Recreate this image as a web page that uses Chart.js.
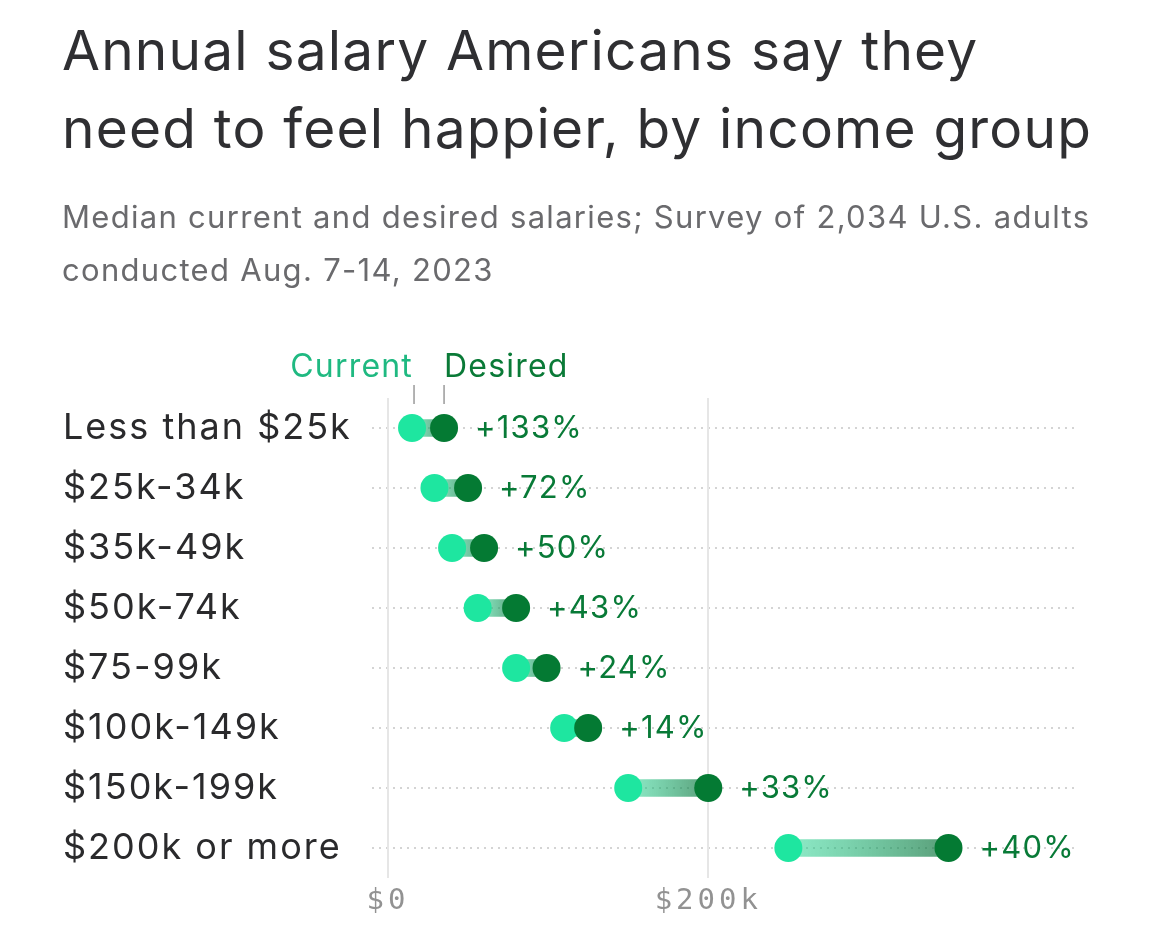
<!DOCTYPE html>
<html>
<head>
<meta charset="utf-8">
<script src="https://cdn.jsdelivr.net/npm/chart.js@4.4.0/dist/chart.umd.min.js"></script>
<style>
  html, body { margin: 0; padding: 0; background: #fff; }
  body { width: 1170px; height: 935px; position: relative; overflow: hidden; }
  #title { position: absolute; left: 62px; top: 11px; font-family: Inter, sans-serif; font-weight: 400; font-size: 55px; line-height: 78px; color: #2f2f32; letter-spacing: 1.2px; white-space: nowrap; z-index: 2; }
  #subtitle { position: absolute; left: 62px; top: 190px; font-family: Inter, sans-serif; font-weight: 400; font-size: 31px; line-height: 53px; color: #6a6a6d; letter-spacing: 1.3px; white-space: nowrap; z-index: 2; }
  canvas { position: absolute; left: 0; top: 0; }
</style>
</head>
<body>
<div id="title">Annual salary Americans say they<br>need to feel happier, by income group</div>
<div id="subtitle">Median current and desired salaries; Survey of 2,034 U.S. adults<br>conducted Aug. 7-14, 2023</div>
<canvas id="c" width="1170" height="935"></canvas>
<script>
const categories = ['Less than $25k', '$25k-34k', '$35k-49k', '$50k-74k', '$75-99k', '$100k-149k', '$150k-199k', '$200k or more'];
const currentSalary = [15000, 29000, 40000, 56000, 80000, 110000, 150000, 250000];
const desiredSalary = [35000, 50000, 60000, 80000, 99000, 125000, 200000, 350000];
const changeLabels = ['+133%', '+72%', '+50%', '+43%', '+24%', '+14%', '+33%', '+40%'];
const tickValues = [0, 200000];
const tickLabels = ['$0', '$200k'];

const LIGHT = '#1ee6a0';
const DARK = '#047a33';

function segGradient(ctx) {
  const chart = ctx.chart;
  const xs = chart.scales.x;
  if (!xs || !chart.chartArea || ctx.dataIndex === undefined) return 'rgba(30,220,150,0.5)';
  const i = ctx.dataIndex;
  const x0 = xs.getPixelForValue(currentSalary[i]);
  const x1 = xs.getPixelForValue(desiredSalary[i]);
  const g = chart.ctx.createLinearGradient(x0, 0, x1, 0);
  g.addColorStop(0, 'rgba(30,215,145,0.50)');
  g.addColorStop(1, 'rgba(10,110,55,0.68)');
  return g;
}

function spaced(scale, spacing) {
  if (scale._spacedWrap) return;
  const orig = scale.drawLabels.bind(scale);
  scale.drawLabels = function (area) {
    const c = this.ctx;
    const prev = c.letterSpacing;
    c.letterSpacing = spacing;
    orig(area);
    c.letterSpacing = prev || '0px';
  };
  scale._spacedWrap = true;
}

const annotate = {
  id: 'annotate',
  afterDatasetsDraw(chart) {
    const ctx = chart.ctx;
    const dMeta = chart.getDatasetMeta(0);
    const cMeta = chart.getDatasetMeta(1);
    ctx.save();
    ctx.letterSpacing = '1.2px';
    ctx.font = '400 31px Inter, sans-serif';
    ctx.fillStyle = '#087a37';
    ctx.textBaseline = 'middle';
    ctx.textAlign = 'left';
    dMeta.data.forEach((el, i) => {
      ctx.fillText(changeLabels[i], el.x + 31, el.y + 1);
    });
    const c0 = cMeta.data[0], d0 = dMeta.data[0];
    ctx.textBaseline = 'alphabetic';
    ctx.font = '400 32px Inter, sans-serif';
    ctx.textAlign = 'right';
    ctx.fillStyle = '#1fb981';
    ctx.fillText('Current', c0.x + 1, c0.y - 51);
    ctx.textAlign = 'left';
    ctx.fillStyle = '#0a7a37';
    ctx.fillText('Desired', d0.x, d0.y - 51);
    ctx.strokeStyle = '#9a9a9a';
    ctx.lineWidth = 1.5;
    [c0.x + 2, d0.x].forEach(x => {
      ctx.beginPath();
      ctx.moveTo(x, c0.y - 43);
      ctx.lineTo(x, c0.y - 24);
      ctx.stroke();
    });
    ctx.restore();
  }
};

new Chart(document.getElementById('c'), {
  type: 'bar',
  data: {
    labels: categories,
    datasets: [
      {
        type: 'line', label: 'Desired', data: desiredSalary, order: 0,
        showLine: false, pointRadius: 14, pointHoverRadius: 14, pointBorderWidth: 0,
        pointBackgroundColor: DARK, borderColor: DARK, backgroundColor: DARK
      },
      {
        type: 'line', label: 'Current', data: currentSalary, order: 1,
        showLine: false, pointRadius: 14, pointHoverRadius: 14, pointBorderWidth: 0,
        pointBackgroundColor: LIGHT, borderColor: LIGHT, backgroundColor: LIGHT
      },
      {
        type: 'bar', label: 'Gap', order: 2,
        data: currentSalary.map((v, i) => [v, desiredSalary[i]]),
        backgroundColor: segGradient, borderWidth: 0, barThickness: 17, borderSkipped: false
      }
    ]
  },
  options: {
    indexAxis: 'y',
    responsive: false,
    animation: false,
    events: [],
    layout: { padding: { top: 398, left: 63, right: 95, bottom: 0 } },
    plugins: { legend: { display: false }, tooltip: { enabled: false }, title: { display: false } },
    scales: {
      y: {
        type: 'category',
        offset: true,
        grid: { offset: false, color: '#d4d4d4', lineWidth: 2, drawTicks: false },
        border: { display: false, dash: [2, 5] },
        ticks: { crossAlign: 'far', color: '#2a2a2c', padding: 0, font: { family: 'Inter, sans-serif', size: 36 } },
        afterFit(s) { s.width = 309; spaced(s, '2px'); }
      },
      x: {
        type: 'linear',
        min: -10000,
        max: 429000,
        afterBuildTicks(s) { s.ticks = tickValues.map(v => ({ value: v })); },
        grid: { color: '#e6e6e6', lineWidth: 2, drawTicks: false },
        border: { display: false },
        ticks: {
          padding: 6, color: '#929292',
          font: { family: '"DejaVu Sans Mono", monospace', size: 29 },
          callback(v) { const k = tickValues.indexOf(v); return k >= 0 ? tickLabels[k] : ''; }
        },
        afterFit(s) { s.height = 57; spaced(s, '4px'); }
      }
    }
  },
  plugins: [annotate]
});
</script>
</body>
</html>
